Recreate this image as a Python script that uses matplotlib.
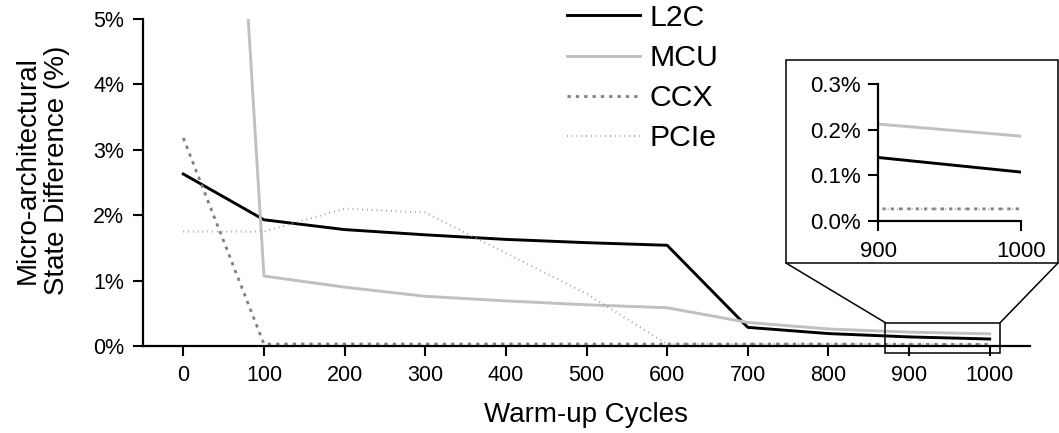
import matplotlib
matplotlib.use("Agg")
import matplotlib.pyplot as plt
from matplotlib.patches import Rectangle, ConnectionPatch
from matplotlib.ticker import FuncFormatter

plt.rcParams['font.family'] = ['Liberation Sans', 'DejaVu Sans']

cycles = [0, 100, 200, 300, 400, 500, 600, 700, 800, 900, 1000]
l2c = [2.63, 1.93, 1.78, 1.70, 1.63, 1.58, 1.54, 0.285, 0.19, 0.139, 0.107]
mcu = [21.2, 1.07, 0.90, 0.76, 0.69, 0.63, 0.585, 0.36, 0.26, 0.2125, 0.186]
ccx = [3.18, 0.03, 0.03, 0.03, 0.03, 0.03, 0.03, 0.03, 0.03, 0.026, 0.026]
pcie = [1.75, 1.75, 2.10, 2.04, 1.42, 0.80, 0.03, 0.03, 0.03, 0.026, 0.026]
series_names = ["L2C", "MCU", "CCX", "PCIe"]
main_xticks = [0, 100, 200, 300, 400, 500, 600, 700, 800, 900, 1000]
main_yticks = [0, 1, 2, 3, 4, 5]
inset_xticks = [900, 1000]
inset_yticks = [0.0, 0.1, 0.2, 0.3]

W, H = 1059, 433
fig = plt.figure(figsize=(W / 100, H / 100), dpi=100)

def fx(px):
    return px / W

def fy(py):
    return 1 - py / H

ax = fig.add_axes([fx(143), fy(346), fx(1030) - fx(143), fy(19) - fy(346)])

styles = [
    dict(color='black', lw=2.1),
    dict(color='#c0c0c0', lw=2.1),
    dict(color='#808080', lw=2.0, dashes=(1.2, 1.8)),
    dict(color='#999999', lw=1.5, dashes=(0.4, 1.9)),
]
data = [l2c, mcu, ccx, pcie]

def draw(a):
    lines = []
    for name, vals, st in zip(series_names, data, styles):
        ln, = a.plot(cycles, vals, label=name, **st)
        lines.append(ln)
    return lines

lines = draw(ax)
ax.set_xlim(-50, 1050)
ax.set_ylim(0, 5)
ax.set_xticks(main_xticks)
ax.set_yticks(main_yticks)
ax.yaxis.set_major_formatter(FuncFormatter(lambda v, p: f"{v:.0f}%"))
for s in ['top', 'right']:
    ax.spines[s].set_visible(False)
for s in ['left', 'bottom']:
    ax.spines[s].set_linewidth(1.6)
ax.tick_params(direction='out', length=7.5, width=1.5, labelsize=15.5, pad=6)
ax.set_xlabel("Warm-up Cycles", fontsize=20)
ax.set_ylabel("Micro-architectural\nState Difference (%)", fontsize=20)
ax.xaxis.set_label_coords(0.5, -0.172)
ax.yaxis.set_label_coords(-0.082, 0.538)

leg = ax.legend(loc='upper left', bbox_to_anchor=(fx(567), fy(4)), bbox_transform=fig.transFigure,
                frameon=False, fontsize=21.8, handlelength=2.4, handletextpad=0.33,
                labelspacing=0.40, borderaxespad=0, borderpad=0)

# inset frame
frame = Rectangle((fx(786), fy(263)), fx(1058) - fx(786), fy(60) - fy(263),
                  transform=fig.transFigure, fill=False, edgecolor='black', lw=1.1)
fig.patches.append(frame)

# zoom rectangle on main axes
zx0, zx1, zy0, zy1 = 870.7, 1012.9, -0.11, 0.356
ax.add_patch(Rectangle((zx0, zy0), zx1 - zx0, zy1 - zy0, fill=False, edgecolor='black',
                       lw=1.1, clip_on=False, zorder=5))
for (fxp, fyp), (dx, dy) in [((fx(786), fy(263)), (zx0, zy1)), ((fx(1058), fy(263)), (zx1, zy1))]:
    cp = ConnectionPatch(xyA=(fxp, fyp), coordsA='figure fraction', xyB=(dx, dy), coordsB=ax.transData,
                         color='black', lw=1.1)
    fig.add_artist(cp)

axin = fig.add_axes([fx(878.3), fy(220.7), fx(1020.7) - fx(878.3), fy(84.3) - fy(220.7)])
draw(axin)
axin.set_xlim(900, 1000)
axin.set_ylim(0, 0.3)
axin.set_xticks(inset_xticks)
axin.set_yticks(inset_yticks)
axin.yaxis.set_major_formatter(FuncFormatter(lambda v, p: f"{v:.1f}%"))
for s in ['top', 'right']:
    axin.spines[s].set_visible(False)
for s in ['left', 'bottom']:
    axin.spines[s].set_linewidth(1.6)
axin.tick_params(direction='out', length=7.5, width=1.5, labelsize=16, pad=5)
axin.tick_params(axis='x', pad=7)
axin.patch.set_alpha(0)

fig.savefig("out.png", dpi=100)
